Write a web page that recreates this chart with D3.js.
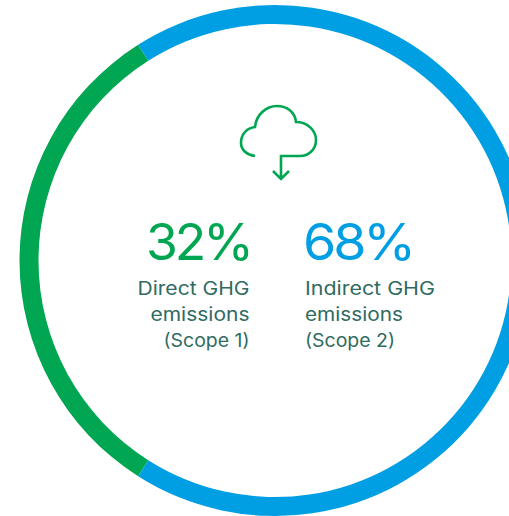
<!DOCTYPE html>
<html><head><meta charset="utf-8">
<script src="https://cdnjs.cloudflare.com/ajax/libs/d3/7.8.5/d3.min.js"></script>
<style>html,body{margin:0;padding:0;background:#fff;overflow:hidden}svg{display:block}text{font-family:Inter,"Noto Sans",sans-serif}</style>
</head><body><svg id="c" width="509" height="516"></svg>
<script>
const categories = ["Direct GHG emissions (Scope 1)", "Indirect GHG emissions (Scope 2)"];
const values = [32, 68];
const colors = ["#00a651", "#009fe3"];
const svg = d3.select("#c");
const cx = 275, cy = 260.5, R = 255.5, T = 19;
const start = Math.PI * 2 * (270 - 57.6) / 360;
const pie = d3.pie().sort(null).value(d => d).startAngle(start).endAngle(start + Math.PI * 2);
const arc = d3.arc().innerRadius(R - T).outerRadius(R);
svg.append("g").attr("transform", `translate(${cx},${cy})`).selectAll("path").data(pie(values)).join("path")
  .attr("d", arc).attr("fill", (d, i) => colors[i]);
svg.append("path")
  .attr("d", "M255,156 C247,155 241,150 241,143 C241,134 247,128 255,127 C256,115 266,106 277,106 C287,106 295,112 296,122 C308,122 316,131 316,140 C316,150 308,156 300,156 L281,156 L281,179 M273,171 L281,179 L289,171")
  .attr("fill", "none").attr("stroke", colors[0]).attr("stroke-width", 2.6);
const big = [
  {t: values[0] + "%", x: 251, a: "end", c: colors[0], w: 105},
  {t: values[1] + "%", x: 303, a: "start", c: colors[1], w: 110}
];
svg.selectAll("text.big").data(big).join("text").attr("class", "big")
  .attr("x", d => d.x).attr("y", 260).attr("text-anchor", d => d.a).attr("fill", d => d.c)
  .attr("font-size", 51).attr("font-weight", 400).attr("letter-spacing", -3)
  .attr("textLength", d => d.w).attr("lengthAdjust", "spacingAndGlyphs").text(d => d.t);
const lines = [
  {ls: ["Direct GHG", "emissions", "(Scope 1)"], w: [112, 99, 86], x: 249.5, a: "end"},
  {ls: ["Indirect GHG", "emissions", "(Scope 2)"], w: [130, 98, 90], x: 305, a: "start"}
];
lines.forEach(g => g.ls.forEach((l, i) => svg.append("text").attr("x", g.x).attr("y", 295 + i * 26)
  .attr("text-anchor", g.a).attr("fill", "#2f6b5f").attr("font-size", 18.5).attr("font-weight", 400)
  .attr("textLength", g.w[i]).attr("lengthAdjust", "spacingAndGlyphs").text(l)));
</script></body></html>
